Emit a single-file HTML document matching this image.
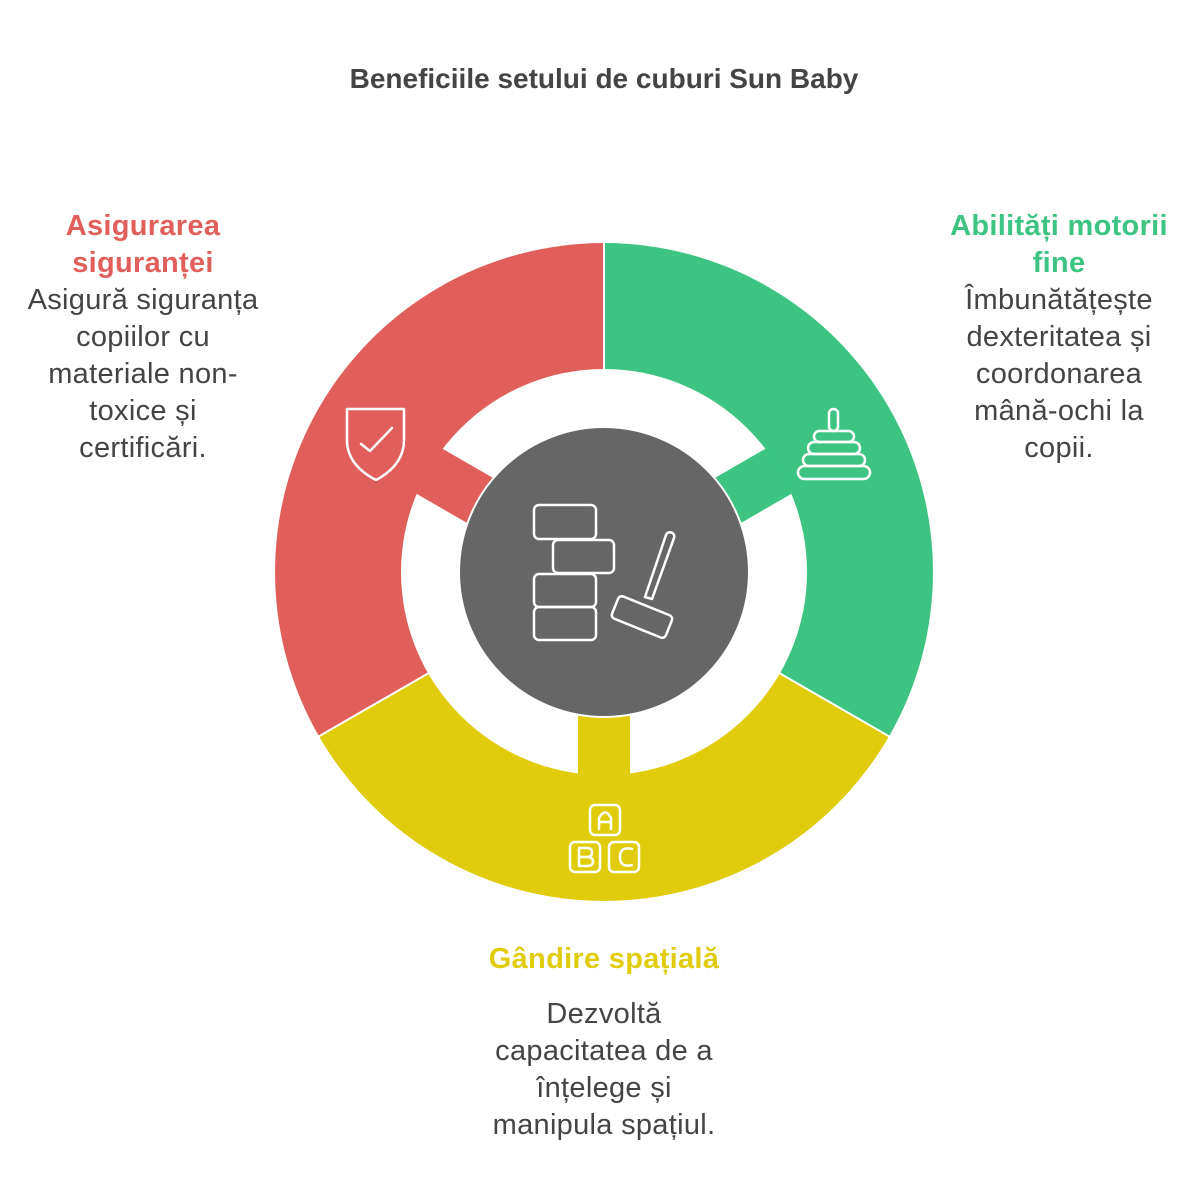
<!DOCTYPE html>
<html><head><meta charset="utf-8"><style>
body{margin:0;background:#fff;width:1200px;height:1200px;position:relative;overflow:hidden;font-family:"Liberation Sans","DejaVu Sans",sans-serif}
.t{position:absolute;text-align:center;color:#444;font-size:29px;line-height:37px;white-space:nowrap;letter-spacing:0.3px}
.h{font-weight:bold}
</style></head><body>
<div class="t h" style="left:300px;width:608px;top:60px;font-size:28px;letter-spacing:0">Beneficiile setului de cuburi Sun Baby</div>
<div class="t" style="left:10px;width:266px;top:208px;"><span class="h" style="color:#e05f5a">Asigurarea<br>siguranței</span><br>Asigură siguranța<br>copiilor cu<br>materiale non-<br>toxice și<br>certificări.</div>
<div class="t" style="left:930px;width:258px;top:208px;"><span class="h" style="color:#3dc482">Abilități motorii<br>fine</span><br>Îmbunătățește<br>dexteritatea și<br>coordonarea<br>mână-ochi la<br>copii.</div>
<div class="t h" style="left:400px;width:408px;top:941px;color:#e0cc0b">Gândire spațială</div>
<div class="t" style="left:420px;width:368px;top:996px;">Dezvoltă<br>capacitatea de a<br>înțelege și<br>manipula spațiul.</div>
<svg width="1200" height="1200" style="position:absolute;left:0;top:0">
<path d="M604,572 L604,243 A329,329 0 0 0 319.1,736.5 Z" fill="#e05f5a"/>
<path d="M604,572 L604,243 A329,329 0 0 1 888.9,736.5 Z" fill="#3dc482"/>
<path d="M604,572 L319.1,736.5 A329,329 0 0 0 888.9,736.5 Z" fill="#e0cc0b"/>
<g stroke="#fff" stroke-width="2"><line x1="604" y1="572" x2="604" y2="240"/><line x1="604" y1="572" x2="316" y2="738"/><line x1="604" y1="572" x2="892" y2="738"/></g>
<circle cx="604" cy="572" r="203" fill="#fff"/>
<rect x="578" y="572" width="52" height="205" fill="#e0cc0b"/>
<rect x="578" y="572" width="52" height="205" fill="#e05f5a" transform="rotate(120 604 572)"/>
<rect x="578" y="572" width="52" height="205" fill="#3dc482" transform="rotate(-120 604 572)"/>
<circle cx="604" cy="572" r="145" fill="#666" stroke="#fff" stroke-width="2"/>
<g fill="none" stroke="#fff" stroke-width="2.5" stroke-linejoin="round" stroke-linecap="round">
<rect x="534" y="505" width="62" height="34" rx="5"/>
<rect x="553" y="540" width="61" height="33" rx="5"/>
<rect x="534" y="574" width="62" height="33" rx="5"/>
<rect x="534" y="607" width="62" height="33" rx="5"/>
<path d="M666,535 a4,4 0 0 1 8,3 L652,599 L645,597 Z"/>
<rect x="613" y="605" width="58" height="24" rx="4" transform="rotate(22 642 617)"/>
<path d="M347,409 L404,409 L404,440 Q404,465 376,480 Q347,465 347,440 Z"/>
<path d="M361,444 L370,451 L392,428"/>
<rect x="829" y="409" width="9" height="22" rx="4.5"/>
<rect x="814" y="431" width="40" height="11" rx="5.5"/>
<rect x="808" y="442" width="52" height="12" rx="6"/>
<rect x="803" y="454" width="62" height="12" rx="6"/>
<rect x="798" y="466" width="72" height="13" rx="6.5"/>
<rect x="590" y="805" width="30" height="30" rx="5"/>
<rect x="570" y="842" width="30" height="30" rx="5"/>
<rect x="609" y="842" width="30" height="30" rx="5"/>
<path d="M599,829 L599,818 Q605,807 611,818 L611,829 M599,822 L611,822"/>
<path d="M579,866 L579,848 L587,848 Q592,848 592,852.5 Q592,857 587,857 L579,857 M587,857 Q593,857 593,861.5 Q593,866 587,866 L579,866"/>
<path d="M632,849 Q620,846 620,857 Q620,868 632,865"/>
</g>
</svg>
</body></html>
